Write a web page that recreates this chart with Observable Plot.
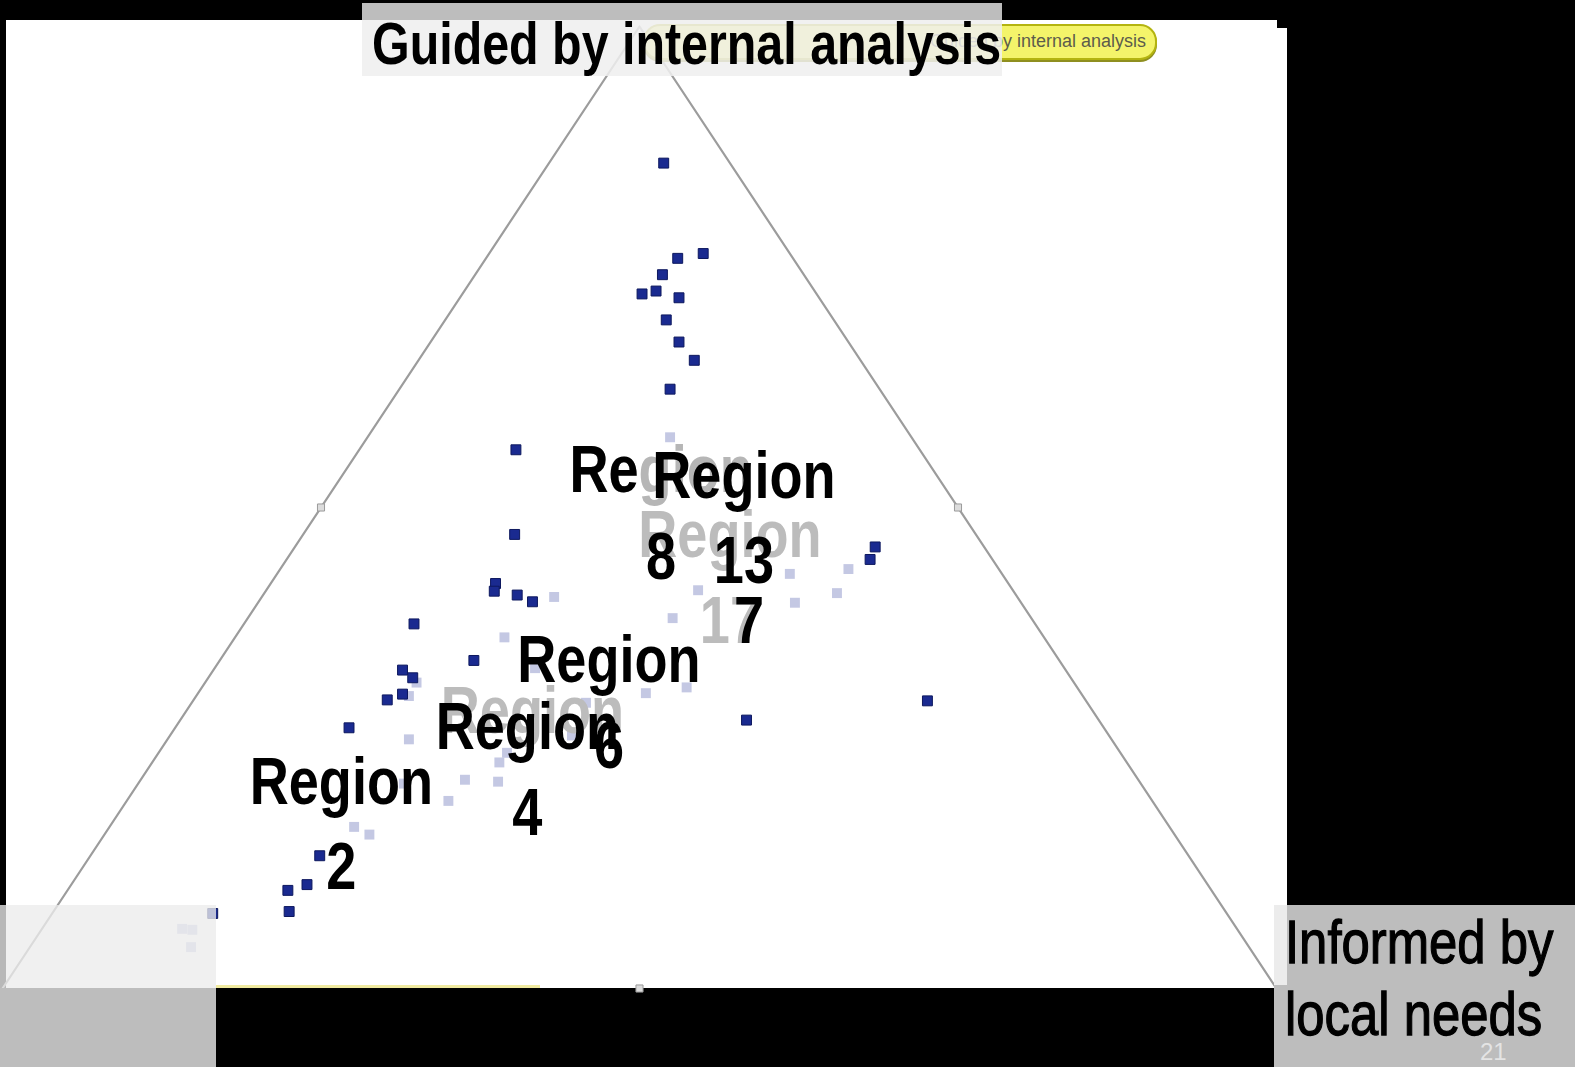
<!DOCTYPE html>
<html>
<head>
<meta charset="utf-8">
<script src="https://cdn.jsdelivr.net/npm/d3@7"></script>
<script src="https://cdn.jsdelivr.net/npm/@observablehq/plot@0.6"></script>
<style>
  html, body { margin: 0; padding: 0; background: #000; }
  #stage { position: relative; width: 1575px; height: 1067px; overflow: hidden; background: #000;
           font-family: "Liberation Sans", Arial, sans-serif; }
  .abs { position: absolute; }
  .narrow { transform: scaleX(0.82); transform-origin: 0 0; }
  #panel { left: 6px; top: 20px; width: 1271px; height: 968px; background: #fff; }
  #panel2 { left: 1277px; top: 28px; width: 10px; height: 960px; background: #fff; }
  #chart { left: 0; top: 0; }
  #pill { left: 643px; top: 24px; width: 510px; height: 32px; border-radius: 17px; background: #f4f46a;
          border: 2px solid #b4b410; box-shadow: 0 2px 0 #8f8f20; box-sizing: content-box; overflow: hidden; }
  #pillText { right: 9px; top: 6px; font-size: 18px; color: #5c5c4c; white-space: nowrap; line-height: 1.1; }
  #titleBand { left: 362px; top: 3px; width: 640px; height: 17px; background: #bdbdbd; }
  #titleBox { left: 362px; top: 20px; width: 640px; height: 56px; background: rgba(239,239,239,0.86); }
  #title { left: 372px; top: 15px; font-size: 59px; font-weight: bold; color: #000; white-space: nowrap; line-height: 1; }
  #blLight { left: 0; top: 905px; width: 216px; height: 83px; background: rgba(236,236,236,0.78); }
  #blGray { left: 0; top: 988px; width: 216px; height: 79px; background: #bdbdbd; }
  #yline { left: 216px; top: 985px; width: 324px; height: 3px; background: #f0eaa0; }
  #brGray { left: 1274px; top: 905px; width: 301px; height: 162px; background: #bdbdbd; }
  #brLight { left: 1274px; top: 905px; width: 13px; height: 80px; background: #ececec; }
  #axisLabel { left: 1285px; top: 906px; font-size: 62px; color: #000; white-space: nowrap;
               -webkit-text-stroke: 1.3px #000; }
  #pageNum { left: 1480px; top: 1038px; font-size: 24px; color: #e4e4e4; }
</style>
</head>
<body>
<div id="stage">
  <div id="panel" class="abs"></div>
  <div id="panel2" class="abs"></div>
  <div id="chart" class="abs"></div>
  <div id="pill" class="abs"><div id="pillText" class="abs">Guided by internal analysis</div></div>
  <div id="titleBand" class="abs"></div>
  <div id="titleBox" class="abs"></div>
  <div id="title" class="abs narrow">Guided by internal analysis</div>
  <div id="blLight" class="abs"></div>
  <div id="blGray" class="abs"></div>
  <div id="yline" class="abs"></div>
  <div id="brGray" class="abs"></div>
  <div id="brLight" class="abs"></div>
  <div id="axisLabel" class="abs narrow"></div>
  <div id="pageNum" class="abs">21</div>
</div>
<script>
// ---- Data (triangle coordinates: x 0..100 along the base, y 0..100 toward the apex) ----
const corners = [[0, 0], [50, 100], [100, 0]];          // left, apex, right corner
const sideMarks = [[25, 50], [75, 50], [50, 0]];         // mid-point markers of the sides

const darkPoints = [
  [51.9, 85.8], [55.0, 76.4], [53.0, 75.9], [51.8, 74.2], [50.2, 72.2], [51.3, 72.5],
  [53.1, 71.8], [52.1, 69.5], [53.1, 67.2], [54.3, 65.3], [52.4, 62.3],
  [40.3, 56.0], [40.2, 47.2], [38.7, 42.1], [38.6, 41.3], [40.4, 40.9], [41.6, 40.2],
  [32.3, 37.9], [37.0, 34.1], [31.4, 33.1], [32.2, 32.3], [31.4, 30.6], [30.2, 30.0],
  [27.2, 27.1], [24.9, 13.8], [23.9, 10.8], [22.4, 10.2], [22.5, 8.0], [16.5, 7.8],
  [68.5, 45.9], [68.1, 44.6], [72.6, 29.9], [58.4, 27.9]
];

const lightPoints = [
  [43.3, 40.7], [39.4, 36.5], [41.8, 33.3], [32.5, 31.8], [31.9, 30.4], [45.8, 29.7],
  [50.5, 30.7], [31.9, 25.9], [44.7, 26.3], [39.0, 23.5], [39.6, 24.5], [31.5, 21.3],
  [36.3, 21.7], [38.9, 21.5], [35.0, 19.5], [27.6, 16.8], [28.8, 16.0], [14.1, 6.2],
  [14.9, 6.1], [14.8, 4.3], [52.4, 57.3], [54.6, 41.4], [52.6, 38.5], [61.8, 43.1],
  [62.2, 40.1], [66.4, 43.6], [65.5, 41.1], [53.7, 31.3]
];

// region labels (black), anchored at the baseline of the number line
const regionNames = ["Region\n2", "Region\n4", "Region\n6", "Region\n13"];
const regionX = [26.6, 41.2, 47.6, 58.2];
const regionY = [10.3, 16.0, 22.9, 42.1];

// fading labels from the previous frame (grey)
const fadedNames = ["Region\n17", "Region"];
const fadedX = [57.1, 41.6];
const fadedY = [35.9, 26.6];

// Region 8, partly covered
const region8Word = "Region", region8Cut = "Re", region8Num = "8";
const region8X = 44.5, region8Y = 51.6, region8NumX = 51.7, region8NumY = 42.6;
const region17Tail = "7", region17TailX = 58.6, region17TailY = 35.9;

const axisLines = ["Informed by", "local needs"];

// ---- Chart ----
const font = '"Liberation Sans", Arial, sans-serif';
const labelStyle = {fontFamily: font, fontSize: 66, fontWeight: "bold", lineHeight: 1.3, lineAnchor: "bottom"};

const regions = regionNames.map((t, i) => ({t, x: regionX[i], y: regionY[i]}));
const faded = fadedNames.map((t, i) => ({t, x: fadedX[i], y: fadedY[i]}));

const chart = Plot.plot({
  width: 1575,
  height: 1067,
  marginLeft: 2,
  marginRight: 299,
  marginTop: 26,
  marginBottom: 79,
  x: {domain: [0, 100], axis: null},
  y: {domain: [0, 100], axis: null},
  style: {background: "transparent", overflow: "visible"},
  marks: [
    Plot.line(corners, {stroke: "#9c9c9c", strokeWidth: 2.2}),
    Plot.dot(sideMarks, {symbol: "square", r: 4, fill: "#dcdcdc", stroke: "#9a9a9a", strokeWidth: 1}),
    Plot.dot(lightPoints, {symbol: "square", r: 5.6, fill: "#c4c8e3"}),
    Plot.dot(darkPoints, {symbol: "square", r: 5.6, fill: "#1a2a90", stroke: "#0d185e", strokeWidth: 1}),
    Plot.text(faded, {x: "x", y: "y", text: "t", fill: "#bcbcbc", textAnchor: "middle", ...labelStyle}),
    Plot.text([region8Word], {x: () => region8X, y: () => region8Y, text: d => d, fill: "#b6b6b6", textAnchor: "start", ...labelStyle}),
    Plot.text([region8Cut], {x: () => region8X, y: () => region8Y, text: d => d, fill: "#000", textAnchor: "start", ...labelStyle}),
    Plot.text([region8Num], {x: () => region8NumX, y: () => region8NumY, text: d => d, fill: "#000", textAnchor: "middle", ...labelStyle}),
    Plot.text(regions, {x: "x", y: "y", text: "t", fill: "#000", textAnchor: "middle", ...labelStyle}),
    Plot.text([region17Tail], {x: () => region17TailX, y: () => region17TailY, text: d => d, fill: "#000", textAnchor: "middle", ...labelStyle})
  ]
});
// condensed lettering: narrow each label horizontally around its own anchor
d3.select(chart).selectAll("text").each(function () {
  const t = this.getAttribute("transform") || "";
  this.setAttribute("transform", t + " scale(0.82,1)");
});
document.getElementById("chart").appendChild(chart);

const al = document.getElementById("axisLabel");
al.innerHTML = axisLines.map(s => `<div style="height:72px;line-height:72px">${s}</div>`).join("");
</script>
</body>
</html>
